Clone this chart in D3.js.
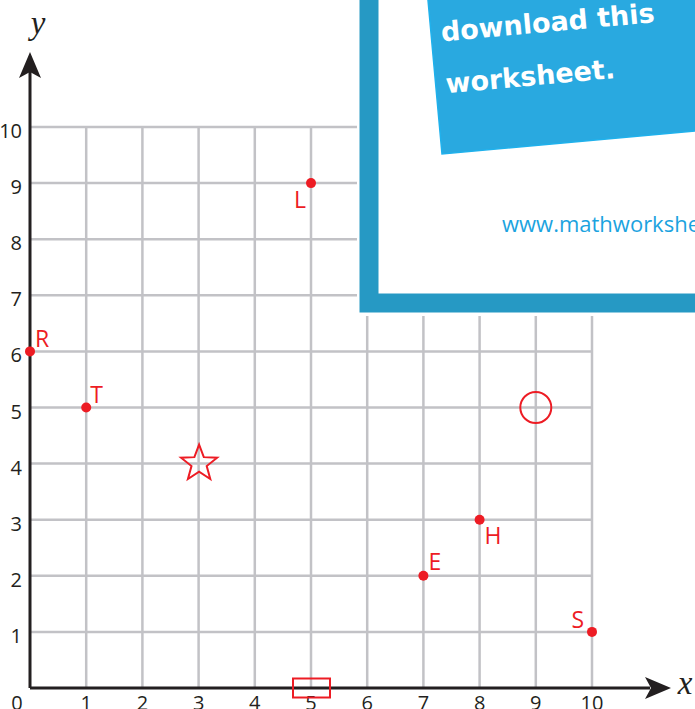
<!DOCTYPE html>
<html lang="en">
<head>
  <meta charset="UTF-8">
  <title>Coordinate grid worksheet</title>
  <script src="https://d3js.org/d3.v7.min.js"></script>
  <style>
    body { margin: 0; background: #fff; }
    .tick-label { font-family: "Open Sans", sans-serif; font-size: 20px; fill: #231f20; }
    .pt-label { font-family: "Open Sans", sans-serif; font-size: 23px; fill: #ed1c24; }
  </style>
</head>
<body>
  <svg id="viz" width="695" height="709"></svg>

  <script>
    const ticks = [0, 1, 2, 3, 4, 5, 6, 7, 8, 9, 10];

    const pointNames = ["R", "T", "L", "E", "H", "S"];
    const pointX = [0, 1, 5, 7, 8, 10];
    const pointY = [6, 5, 9, 2, 3, 1];
    // label placement relative to point: dx, dy, anchor
    const labelDx = [5, 4, -5, 5, 5, -8];
    const labelDy = [-4, -5, 25, -6, 24, -4];
    const labelAnchor = ["start", "start", "end", "start", "start", "end"];

    const shapeNames = ["star", "circle", "rect"];
    const shapeX = [3, 9, 5];
    const shapeY = [4, 5, 0];

    const bannerLines = ["download this", "worksheet."];
    const siteText = "www.mathworksheets4kids.com";

    const svg = d3.select("#viz");
    const red = "#ed1c24";

    const x = d3.scaleLinear().domain([0, 10]).range([30, 592]);
    const y = d3.scaleLinear().domain([0, 10]).range([688, 127]);

    // grid
    svg.append("g").selectAll("line.v")
      .data(ticks.slice(1))
      .enter().append("line")
      .attr("x1", d => x(d)).attr("x2", d => x(d))
      .attr("y1", y(0)).attr("y2", y(10))
      .attr("stroke", "#c2c2c6").attr("stroke-width", 2.5);

    svg.append("g").selectAll("line.h")
      .data(ticks.slice(1))
      .enter().append("line")
      .attr("x1", x(0)).attr("x2", x(10))
      .attr("y1", d => y(d)).attr("y2", d => y(d))
      .attr("stroke", "#c2c2c6").attr("stroke-width", 2.5);

    // axes
    svg.append("line")
      .attr("x1", x(0)).attr("x2", 650)
      .attr("y1", y(0)).attr("y2", y(0))
      .attr("stroke", "#231f20").attr("stroke-width", 3);
    svg.append("line")
      .attr("x1", x(0)).attr("x2", x(0))
      .attr("y1", y(0)).attr("y2", 70)
      .attr("stroke", "#231f20").attr("stroke-width", 3);

    svg.append("path")
      .attr("d", `M${x(0)},52 L${x(0) + 11},78 L${x(0)},72 L${x(0) - 11},78 Z`)
      .attr("fill", "#231f20");
    svg.append("path")
      .attr("d", `M671,${y(0)} L645,${y(0) - 11} L651,${y(0)} L645,${y(0) + 11} Z`)
      .attr("fill", "#231f20");

    svg.append("text")
      .attr("x", 38).attr("y", 34)
      .attr("text-anchor", "middle")
      .style("font-family", "'Liberation Serif', serif")
      .style("font-style", "italic")
      .style("font-size", "33px")
      .attr("fill", "#231f20")
      .text("y");
    svg.append("text")
      .attr("x", 685).attr("y", 694)
      .attr("text-anchor", "middle")
      .style("font-family", "'Liberation Serif', serif")
      .style("font-style", "italic")
      .style("font-size", "33px")
      .attr("fill", "#231f20")
      .text("x");

    // tick labels
    svg.append("g").selectAll("text")
      .data(ticks.slice(1))
      .enter().append("text")
      .attr("class", "tick-label")
      .attr("x", d => x(d))
      .attr("y", 710)
      .attr("text-anchor", "middle")
      .text(d => d);

    svg.append("g").selectAll("text")
      .data(ticks.slice(1))
      .enter().append("text")
      .attr("class", "tick-label")
      .attr("x", 22)
      .attr("y", d => y(d) + 11)
      .attr("text-anchor", "end")
      .text(d => d);

    svg.append("text")
      .attr("class", "tick-label")
      .attr("x", 17).attr("y", 710)
      .attr("text-anchor", "middle")
      .text(0);

    // shapes
    const starPts = d3.range(10).map(i => [i * Math.PI / 5, i % 2 ? 8 : 19]);
    const star = d3.lineRadial().curve(d3.curveLinearClosed);
    shapeNames.forEach((s, i) => {
      const cx = x(shapeX[i]), cy = y(shapeY[i]);
      if (s === "star") {
        svg.append("path")
          .attr("d", star(starPts))
          .attr("transform", `translate(${cx + 0.5},${cy})`)
          .attr("fill", "none").attr("stroke", red).attr("stroke-width", 2)
          .attr("stroke-linejoin", "miter");
      } else if (s === "circle") {
        svg.append("circle")
          .attr("cx", cx).attr("cy", cy).attr("r", 15.5)
          .attr("fill", "none").attr("stroke", red).attr("stroke-width", 2);
      } else {
        svg.append("rect")
          .attr("x", cx - 18).attr("y", cy - 9.5)
          .attr("width", 37).attr("height", 19)
          .attr("fill", "none").attr("stroke", red).attr("stroke-width", 2);
      }
    });

    // points
    pointNames.forEach((n, i) => {
      const cx = x(pointX[i]), cy = y(pointY[i]);
      svg.append("circle")
        .attr("cx", cx).attr("cy", cy).attr("r", 5)
        .attr("fill", red);
      svg.append("text")
        .attr("class", "pt-label")
        .attr("x", cx + labelDx[i]).attr("y", cy + labelDy[i])
        .attr("text-anchor", labelAnchor[i])
        .text(n);
    });

    // overlay panel
    svg.append("rect")
      .attr("x", 357).attr("y", -10)
      .attr("width", 360).attr("height", 326)
      .attr("fill", "#fff");
    svg.append("rect")
      .attr("x", 369).attr("y", -20)
      .attr("width", 360).attr("height", 323)
      .attr("fill", "#fff")
      .attr("stroke", "#2699c4").attr("stroke-width", 19);

    const banner = svg.append("g")
      .attr("transform", "translate(442,154) rotate(-5.2)");
    banner.append("rect")
      .attr("x", 0).attr("y", -200)
      .attr("width", 300).attr("height", 200)
      .attr("fill", "#29a9e0")
      .attr("stroke", "#1fb1ec").attr("stroke-width", 1.5);
    banner.selectAll("text")
      .data(bannerLines)
      .enter().append("text")
      .attr("x", 10)
      .attr("y", (d, i) => -112 + i * 52)
      .style("font-family", "'DejaVu Sans', sans-serif")
      .style("font-weight", "bold")
      .style("font-size", "27px")
      .attr("fill", "#fff")
      .text(d => d);

    svg.append("text")
      .attr("x", 502).attr("y", 232)
      .style("font-family", "'Open Sans', sans-serif")
      .style("font-size", "22px")
      .attr("fill", "#1ba3df")
      .text(siteText);
  </script>
</body>
</html>
